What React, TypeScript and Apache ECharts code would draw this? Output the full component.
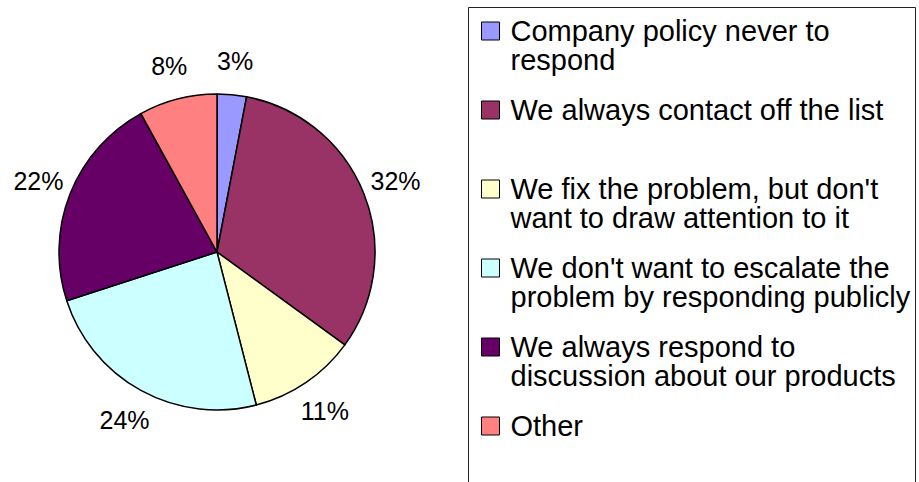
import React, { useEffect, useRef } from 'react';
import * as echarts from 'echarts';

const categories = [
  'Company policy never to respond',
  'We always contact off the list',
  "We fix the problem, but don't want to draw attention to it",
  "We don't want to escalate the problem by responding publicly",
  'We always respond to discussion about our products',
  'Other',
];
const legendLines = [
  ['Company policy never to', 'respond'],
  ['We always contact off the list'],
  ["We fix the problem, but don't", 'want to draw attention to it'],
  ["We don't want to escalate the", 'problem by responding publicly'],
  ['We always respond to', 'discussion about our products'],
  ['Other'],
];
const values = [3, 32, 11, 24, 22, 8];
const colors = ['#9999FF', '#993366', '#FFFFCC', '#CCFFFF', '#660066', '#FF8080'];

const FONT = 'Arial, "Liberation Sans", Helvetica, sans-serif';
const LH = 29;
const LEGEND_FS = 29;
const LEGEND_FIRST_Y = 31;
const LEGEND_STEP = 79;

export default function App() {
  const ref = useRef<HTMLDivElement>(null);
  useEffect(() => {
    const chart = echarts.init(ref.current!, null, { renderer: 'svg' });
    const data = categories.map((name, i) => ({
      name,
      value: values[i],
      itemStyle: { color: colors[i] },
    }));
    chart.setOption({
      animation: false,
      backgroundColor: '#ffffff',
      textStyle: { fontFamily: FONT },
      legend: categories.map((name, i) => ({
        data: [name],
        orient: 'vertical',
        left: 481,
        top: LEGEND_FIRST_Y + i * LEGEND_STEP - 1.5 * LH,
        padding: 0,
        itemWidth: 18,
        itemHeight: 18,
        icon: 'rect',
        selectedMode: false,
        itemStyle: { borderColor: '#000', borderWidth: 1 },
        formatter: () => legendLines[i].map((l) => `{t|${l}}`).join('\n'),
        textStyle: {
          fontSize: LEGEND_FS,
          lineHeight: LH,
          color: '#000',
          fontFamily: FONT,
          backgroundColor: 'transparent',
          padding: [LH, 0, legendLines[i].length === 1 ? LH : 0, 6],
          rich: {
            t: { fontSize: LEGEND_FS, lineHeight: LH, color: '#000', fontFamily: FONT },
          },
        },
      })),
      graphic: [
        {
          type: 'rect',
          silent: true,
          shape: { x: 468.5, y: 7.5, width: 447, height: 520 },
          style: { fill: 'none', stroke: '#222', lineWidth: 1 },
        },
      ],
      series: [
        {
          type: 'pie',
          name: 'responses',
          center: [217, 252],
          radius: 158,
          startAngle: 90,
          clockwise: true,
          data,
          label: { show: false },
          labelLine: { show: false },
          itemStyle: { borderColor: '#000', borderWidth: 1.5 },
          emphasis: { disabled: true },
          silent: true,
        },
        {
          type: 'pie',
          name: 'labels',
          center: [217, 252],
          radius: [166, 212],
          startAngle: 90,
          clockwise: true,
          data: values.map((v, i) => ({ name: categories[i], value: v })),
          itemStyle: { color: 'rgba(0,0,0,0)', borderWidth: 0 },
          label: {
            show: true,
            position: 'inside',
            formatter: (p: any) => Math.round(p.percent) + '%',
            fontSize: 25,
            color: '#000',
            fontFamily: FONT,
          },
          labelLine: { show: false },
          emphasis: { disabled: true },
          silent: true,
        },
      ],
    });
    return () => chart.dispose();
  }, []);
  return (
    <div
      ref={ref}
      style={{ position: 'absolute', left: 0, top: 0, width: 919, height: 482 }}
    />
  );
}
